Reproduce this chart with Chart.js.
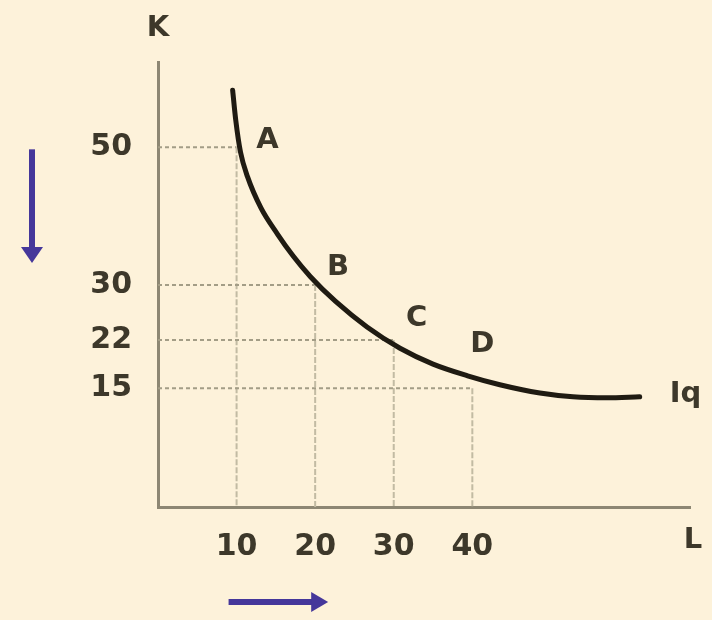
<!DOCTYPE html>
<html>
<head>
<meta charset="utf-8">
<script src="https://cdn.jsdelivr.net/npm/chart.js@4/dist/chart.umd.min.js"></script>
<style>
  html, body { margin: 0; padding: 0; background: #fdf2da; }
  #wrap { width: 712px; height: 620px; position: relative; }
</style>
</head>
<body>
<div id="wrap"><canvas id="c" width="712" height="620"></canvas></div>
<script>
// ---- data ----
const pointNames = ['A', 'B', 'C', 'D'];
const pointL = [10, 20, 30, 40];        // labour
const pointK = [50, 30, 22, 15];        // capital
const xTicks = [10, 20, 30, 40];
const yTicks = [15, 22, 30, 50];
const curveL = [9.5, 9.9, 10.5, 11.4, 13.1, 15.2, 17.2, 19.4, 22.6, 26.6, 30.8, 35, 39.4, 43.5, 48.6, 52.8, 57.1, 61.3];
const curveK = [58.3, 53.9, 49.3, 45.7, 41.2, 37.4, 34.2, 31.2, 27.6, 23.9, 20.8, 18.5, 16.8, 15.5, 14.3, 13.75, 13.6, 13.75];
const xAxisTitle = 'L';
const yAxisTitle = 'K';
const curveName = 'Iq';

const INK = '#3d382a';
const AXIS = '#8d8773';
const GUIDE = '#a39d86';
const ARROW = '#45379a';

const curveData = curveL.map((x, i) => ({ x: x, y: curveK[i] }));
const pointData = pointL.map((x, i) => ({ x: x, y: pointK[i] }));

const decor = {
  id: 'decor',
  beforeDatasetsDraw(chart) {
    const ctx = chart.ctx, xs = chart.scales.x, ys = chart.scales.y;
    ctx.save();
    pointData.forEach(p => {
      const px = xs.getPixelForValue(p.x), py = ys.getPixelForValue(p.y);
      ctx.strokeStyle = GUIDE;
      ctx.lineWidth = 2;
      ctx.setLineDash([4, 3]);
      ctx.beginPath();
      ctx.moveTo(chart.chartArea.left, py);
      ctx.lineTo(px, py);
      ctx.stroke();
      ctx.strokeStyle = '#c2bba3';
      ctx.setLineDash([6, 2]);
      ctx.beginPath();
      ctx.moveTo(px, py);
      ctx.lineTo(px, chart.chartArea.bottom);
      ctx.stroke();
    });
    ctx.restore();
  },
  afterDraw(chart) {
    const ctx = chart.ctx, xs = chart.scales.x, ys = chart.scales.y;
    const ca = chart.chartArea;
    ctx.save();
    ctx.fillStyle = INK;
    ctx.font = 'bold 29px "DejaVu Sans"';
    ctx.textAlign = 'center';
    ctx.textBaseline = 'middle';
    const offs = [[31, -7], [23, -17], [23, -22], [10, -44]];
    pointData.forEach((p, i) => {
      const px = xs.getPixelForValue(p.x), py = ys.getPixelForValue(p.y);
      ctx.fillText(pointNames[i], px + offs[i][0], py + offs[i][1]);
    });
    ctx.fillText(yAxisTitle, ca.left, ca.top - 34);
    ctx.fillText(xAxisTitle, ca.right + 3, ca.bottom + 33);
    const last = curveData[curveData.length - 1];
    ctx.textAlign = 'left';
    ctx.fillText(curveName, xs.getPixelForValue(last.x) + 30, ys.getPixelForValue(last.y) - 2);
    // arrows
    ctx.strokeStyle = ARROW;
    ctx.fillStyle = ARROW;
    ctx.lineWidth = 6;
    const ax = ca.left - 126;
    const y0 = ys.getPixelForValue(50) + 2, y1 = ys.getPixelForValue(30) - 22;
    ctx.beginPath(); ctx.moveTo(ax, y0); ctx.lineTo(ax, y1 - 12); ctx.stroke();
    ctx.beginPath(); ctx.moveTo(ax - 11, y1 - 16); ctx.lineTo(ax + 11, y1 - 16); ctx.lineTo(ax, y1); ctx.closePath(); ctx.fill();
    const ay = ca.bottom + 95;
    const x0 = xs.getPixelForValue(10) - 8, x1 = xs.getPixelForValue(20) + 13;
    ctx.beginPath(); ctx.moveTo(x0, ay); ctx.lineTo(x1 - 12, ay); ctx.stroke();
    ctx.beginPath(); ctx.moveTo(x1 - 17, ay - 10); ctx.lineTo(x1 - 17, ay + 10); ctx.lineTo(x1, ay); ctx.closePath(); ctx.fill();
    ctx.restore();
  }
};

new Chart(document.getElementById('c'), {
  type: 'scatter',
  data: {
    datasets: [{
      label: curveName,
      data: curveData,
      showLine: true,
      borderColor: '#1f1b12',
      borderWidth: 5,
      pointRadius: 0,
      cubicInterpolationMode: 'monotone',
      borderCapStyle: 'round'
    }]
  },
  options: {
    responsive: false,
    animation: false,
    events: [],
    layout: { padding: { top: 62, right: 22, left: 0, bottom: 0 } },
    plugins: { legend: { display: false }, tooltip: { enabled: false } },
    scales: {
      x: {
        type: 'linear', min: 0, max: 67.7,
        grid: { display: false, drawTicks: false },
        border: { display: true, color: AXIS, width: 3 },
        afterBuildTicks: s => { s.ticks = xTicks.map(v => ({ value: v })); },
        afterFit: s => { s.height = 113; },
        ticks: { color: INK, font: { family: 'DejaVu Sans', size: 30, weight: 'bold' }, padding: 22, maxRotation: 0, autoSkip: false }
      },
      y: {
        type: 'linear', min: -2.27, max: 62.4,
        grid: { display: false, drawTicks: false },
        border: { display: true, color: AXIS, width: 3 },
        afterBuildTicks: s => { s.ticks = yTicks.map(v => ({ value: v })); },
        afterFit: s => { s.width = 158; },
        ticks: { color: INK, font: { family: 'DejaVu Sans', size: 30, weight: 'bold' }, padding: 26, autoSkip: false }
      }
    }
  },
  plugins: [decor]
});
</script>
</body>
</html>
